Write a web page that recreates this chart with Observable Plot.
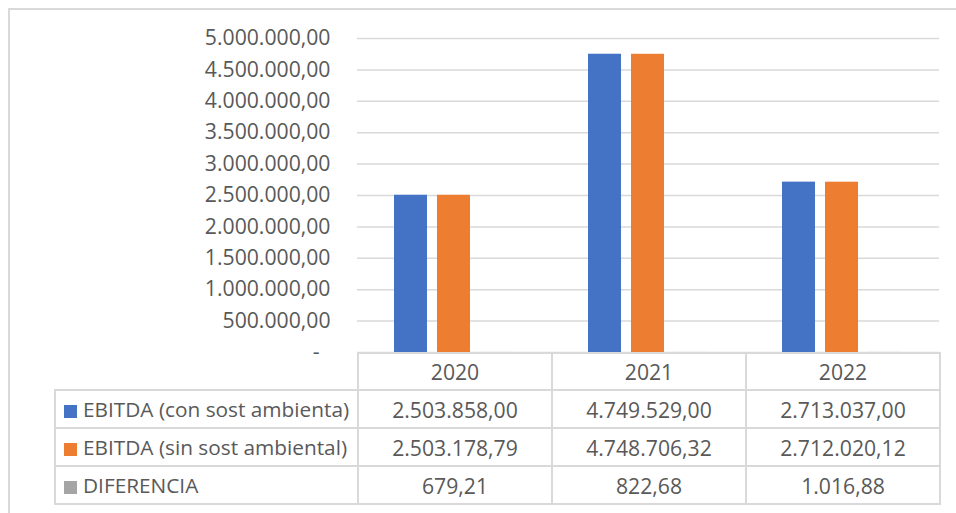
<!DOCTYPE html>
<html>
<head>
<meta charset="utf-8">
<script src="https://cdn.jsdelivr.net/npm/d3@7"></script>
<script src="https://cdn.jsdelivr.net/npm/@observablehq/plot@0.6"></script>
<style>
  html, body { margin: 0; padding: 0; background: #fff; }
  #wrap { position: relative; width: 956px; height: 513px; overflow: hidden; font-family: "Open Sans", sans-serif; color: #595959; }
  #frame { position: absolute; left: 8px; top: 8px; width: 980px; height: 540px; border: 2px solid #d9d9d9; box-sizing: border-box; }
  #chart { position: absolute; left: 0; top: 0; }
  #tbl { position: absolute; left: 54px; top: 352px; border-collapse: collapse; color: #595959; table-layout: fixed; }
  #tbl td { padding: 0; text-align: center; border: 2px solid #d9d9d9; white-space: nowrap; overflow: visible; }
  #tbl td.lab { text-align: left; width: 301px; }
  #tbl td.val { width: 192px; }
  #tbl tr.head td.empty { border-top: none; border-left: none; }
  .sw { display: inline-block; width: 13px; height: 13px; margin: 0 6px 0 8px; vertical-align: -1px; }
</style>
</head>
<body>
<div id="wrap">
  <div id="frame"></div>
  <div id="chart"></div>
  <table id="tbl"></table>
</div>
<script>
const years = ["2020", "2021", "2022"];
const seriesNames = ["EBITDA (con sost ambienta)", "EBITDA (sin sost ambiental)", "DIFERENCIA"];
const seriesColors = ["#4472C4", "#ED7D31", "#A5A5A5"];
const conSost = [2503858.00, 4749529.00, 2713037.00];
const sinSost = [2503178.79, 4748706.32, 2712020.12];
const diferencia = [679.21, 822.68, 1016.88];
const yTicks = [0, 500000, 1000000, 1500000, 2000000, 2500000, 3000000, 3500000, 4000000, 4500000, 5000000];

const seriesValues = [conSost, sinSost, diferencia];
const data = [];
years.forEach((yr, i) => {
  seriesNames.forEach((s, j) => data.push({year: yr, series: s, value: seriesValues[j][i]}));
});

const loc = d3.formatLocale({decimal: ",", thousands: ".", grouping: [3], currency: ["", ""]});
const fmt = loc.format(",.2f");
const tickFmt = d => d === 0 ? "-\u00a0\u00a0" : fmt(d);

// fit font sizes to the reference text widths
const FONT = "'Open Sans', sans-serif";
const ctx = document.createElement("canvas").getContext("2d");
function fit(text, target) {
  ctx.font = `100px ${FONT}`;
  return Math.round(100 * target / ctx.measureText(text).width * 10) / 10;
}
const numSize = fit(fmt(5000000), 126);
const labSize = fit(seriesNames[0], 266);

const chart = Plot.plot({
  width: 956,
  height: 360,
  marginLeft: 357,
  marginRight: 17,
  marginTop: 38,
  marginBottom: 8,
  style: {fontFamily: FONT, fontSize: numSize + "px", color: "#595959", background: "transparent", overflow: "visible"},
  fx: {domain: years, padding: 0, axis: null},
  x: {domain: seriesNames, paddingInner: 0.2235, paddingOuter: 0.85, axis: null},
  y: {domain: [0, 5000000], axis: null},
  color: {domain: seriesNames, range: seriesColors},
  marks: [
    Plot.gridY(yTicks, {stroke: "#d9d9d9", strokeOpacity: 1, strokeWidth: 1.5}),
    Plot.axisY(yTicks, {tickSize: 0, tickPadding: 27, tickFormat: tickFmt, fill: "#595959", fontSize: numSize, label: null}),
    Plot.barY(data, {fx: "year", x: "series", y: "value", fill: "series"})
  ]
});
document.getElementById("chart").appendChild(chart);

// data table below the chart
const tbl = document.getElementById("tbl");
tbl.style.fontSize = numSize + "px";
const head = document.createElement("tr");
head.className = "head";
head.style.height = "37px";
const e = document.createElement("td"); e.className = "lab empty"; head.appendChild(e);
years.forEach(y => { const td = document.createElement("td"); td.className = "val"; td.textContent = y; head.appendChild(td); });
tbl.appendChild(head);
seriesNames.forEach((s, j) => {
  const tr = document.createElement("tr");
  tr.style.height = "38px";
  const lab = document.createElement("td"); lab.className = "lab";
  lab.style.fontSize = labSize + "px";
  const sw = document.createElement("span"); sw.className = "sw"; sw.style.background = seriesColors[j];
  lab.appendChild(sw); lab.appendChild(document.createTextNode(s));
  tr.appendChild(lab);
  seriesValues[j].forEach(v => { const td = document.createElement("td"); td.className = "val"; td.textContent = fmt(v); tr.appendChild(td); });
  tbl.appendChild(tr);
});
</script>
</body>
</html>
